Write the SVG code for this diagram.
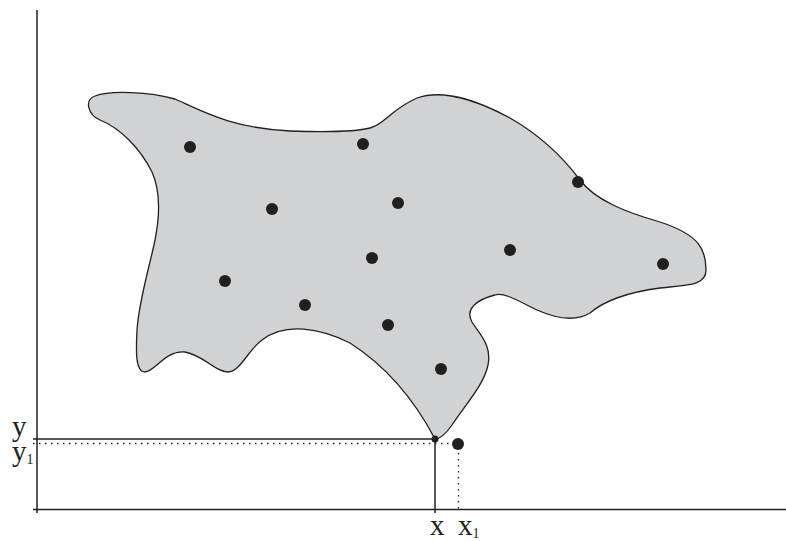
<svg xmlns="http://www.w3.org/2000/svg" width="786" height="541" viewBox="0 0 786 541">
<style>
.ax{stroke:#231f20;stroke-width:1.5;fill:none}
.dot{stroke:#231f20;stroke-width:1.3;stroke-dasharray:1.5 4.5;fill:none}
.pt{fill:#231f20}
.lbl{font-family:"Liberation Serif","Times New Roman",serif;font-size:29px;fill:#231f20}
.sub{font-size:14px}
</style>
<rect width="786" height="541" fill="#fff"/>
<g id="region">
<path d="M435,439 C425,420 400,375 350,343 C320,328 285,322 262,340 C248,350 240,372 228,372 C215,372 205,356 185,352 C165,350 155,372 145,372 C135,372 136,350 137,330 C139,300 150,265 155,240 C160,215 160,190 152,172 C140,148 120,128 100,120 C88,115 84,100 95,96 C110,90 150,92 175,99 C200,110 230,128 290,131 C320,132 355,132 370,128 C385,124 390,110 417,98 C445,88 480,102 510,118 C545,138 565,160 580,180 C595,200 625,212 660,222 C700,235 706,250 706,270 C706,285 690,285 660,288 C630,292 605,300 590,313 C575,322 555,318 537,310 C520,302 505,292 495,295 C475,300 465,310 472,322 C480,335 492,345 488,365 C484,385 465,405 452,425 C445,435 440,439 435,439 Z" fill="#d1d2d4" stroke="#231f20" stroke-width="1.3"/>
</g>
<g id="points">
<circle class="pt" cx="190" cy="147" r="6"/>
<circle class="pt" cx="363" cy="144" r="6"/>
<circle class="pt" cx="272" cy="209" r="6"/>
<circle class="pt" cx="398" cy="203" r="6"/>
<circle class="pt" cx="578" cy="182" r="6"/>
<circle class="pt" cx="510" cy="250" r="6"/>
<circle class="pt" cx="663" cy="264" r="6"/>
<circle class="pt" cx="225" cy="281" r="6"/>
<circle class="pt" cx="372" cy="258" r="6"/>
<circle class="pt" cx="305" cy="305" r="6"/>
<circle class="pt" cx="388" cy="325" r="6"/>
<circle class="pt" cx="441" cy="369" r="6"/>
<circle class="pt" cx="435" cy="439" r="3.5"/>
<circle class="pt" cx="458" cy="444" r="6"/>
</g>
<g id="axes">
<line class="ax" x1="37" y1="10" x2="37" y2="513"/>
<line class="ax" x1="33" y1="509.5" x2="786" y2="509.5"/>
</g>
<g id="connectors">
<line class="ax" x1="33" y1="439" x2="435" y2="439"/>
<line class="ax" x1="435" y1="439" x2="435" y2="513"/>
<line class="dot" x1="33" y1="443.5" x2="452" y2="443.5"/>
<line class="dot" x1="458.5" y1="453" x2="458.5" y2="513"/>
</g>
<g id="labels">
<text class="lbl" x="12" y="436">y</text>
<text class="lbl" x="12" y="461">y<tspan class="sub" dy="3">1</tspan></text>
<text class="lbl" x="430" y="535">x</text>
<text class="lbl" x="458" y="535">x<tspan class="sub" dy="3">1</tspan></text>
</g>
</svg>
